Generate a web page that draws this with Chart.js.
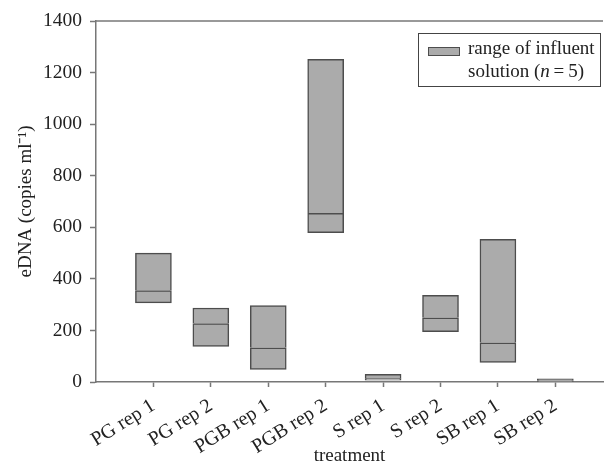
<!DOCTYPE html>
<html>
<head>
<meta charset="utf-8">
<script src="https://cdn.jsdelivr.net/npm/chart.js@4"></script>
<style>
  html, body { margin: 0; padding: 0; background: #fff; overflow: hidden; }
  #wrap { position: relative; width: 604px; height: 467px; }
  #legend {
    position: absolute; left: 418px; top: 33px; width: 181px; height: 52px;
    border: 1px solid #444; font-family: 'Liberation Serif', 'Times New Roman', serif;
    font-size: 19px; line-height: 22.5px; color: #222; box-sizing: content-box;
  }
  #legend .swatch {
    position: absolute; left: 9px; top: 13px; width: 30px; height: 7px;
    background: #ababab; border: 1.5px solid #4d4d4d;
  }
  #legend .text { position: absolute; left: 49px; top: 3px; white-space: nowrap; }
</style>
</head>
<body>
<div id="wrap">
  <canvas id="chart" width="604" height="467"></canvas>
  <div id="legend">
    <div class="swatch"></div>
    <div class="text">range of influent<br>solution (<i>n</i>&#8201;=&#8201;5)</div>
  </div>
</div>
<script>
// treatments along the x axis
const categories = ['PG rep 1', 'PG rep 2', 'PGB rep 1', 'PGB rep 2', 'S rep 1', 'S rep 2', 'SB rep 1', 'SB rep 2'];
// eDNA range (copies per ml)
const lows    = [307, 138,  49,  579,  7, 195,  76,  0];
const medians = [355, 227, 133,  654, 13, 249, 152,  5];
const highs   = [500, 287, 296, 1251, 30, 336, 553, 12];

const yMin = 0, yMax = 1400, yStep = 200;

const fill = '#ababab';
const edge = '#4d4d4d';
const axisColor = '#777';
const bw = 1.5;

Chart.defaults.font.family = "'Liberation Serif', 'Times New Roman', serif";
Chart.defaults.color = '#222';

// top frame line (no right side in the original)
const topBorder = {
    id: 'topBorder',
    afterDraw(chart) {
        const { ctx, chartArea } = chart;
        ctx.save();
        ctx.strokeStyle = axisColor;
        ctx.lineWidth = bw;
        ctx.beginPath();
        ctx.moveTo(chartArea.left, chartArea.top);
        ctx.lineTo(chartArea.right, chartArea.top);
        ctx.stroke();
        ctx.restore();
    }
};

const lowerPart = categories.map((c, i) => ({ x: i + 1, y: [lows[i], medians[i]] }));
const upperPart = categories.map((c, i) => ({ x: i + 1, y: [medians[i], highs[i]] }));

new Chart(document.getElementById('chart'), {
    type: 'bar',
    data: {
        datasets: [
            {
                data: lowerPart,
                backgroundColor: fill,
                borderColor: edge,
                borderWidth: { top: bw, bottom: bw, left: bw, right: bw },
                borderSkipped: false,
                barThickness: 36,
                grouped: false
            },
            {
                data: upperPart,
                backgroundColor: fill,
                borderColor: edge,
                borderWidth: { top: bw, bottom: 0, left: bw, right: bw },
                borderSkipped: false,
                barThickness: 36,
                grouped: false
            }
        ]
    },
    options: {
        responsive: false,
        animation: false,
        layout: { padding: { top: 21, right: 1, left: 0, bottom: 0 } },
        plugins: { legend: { display: false }, tooltip: { enabled: false } },
        scales: {
            x: {
                type: 'linear',
                min: 0,
                max: 8.83,
                offset: false,
                afterFit: scale => { scale.height = 85; },
                grid: {
                    offset: false,
                    drawOnChartArea: false,
                    drawTicks: true,
                    tickLength: 5,
                    tickColor: ctx => (ctx.tick && ctx.tick.value === 0) ? 'rgba(0,0,0,0)' : axisColor,
                    tickWidth: bw
                },
                border: { display: true, color: axisColor, width: bw },
                ticks: {
                    stepSize: 1,
                    includeBounds: false,
                    autoSkip: false,
                    minRotation: 32,
                    maxRotation: 32,
                    padding: 7,
                    font: { size: 20 },
                    callback: v => categories[v - 1] || ''
                },
                title: {
                    display: true,
                    text: 'treatment',
                    font: { size: 19 },
                    padding: { top: 0, bottom: 0 }
                }
            },
            y: {
                min: yMin,
                max: yMax,
                afterFit: scale => { scale.width = 96; },
                grid: {
                    drawOnChartArea: false,
                    drawTicks: true,
                    tickLength: 6,
                    tickColor: axisColor,
                    tickWidth: bw
                },
                border: { display: true, color: axisColor, width: bw },
                ticks: {
                    stepSize: yStep,
                    padding: 8,
                    font: { size: 19.5 },
                    callback: v => String(v)
                },
                title: {
                    display: true,
                    text: 'eDNA (copies ml\u207B\u00B9)',
                    font: { size: 19 },
                    padding: { top: 15, bottom: 0 }
                }
            }
        }
    },
    plugins: [topBorder]
});
</script>
</body>
</html>
